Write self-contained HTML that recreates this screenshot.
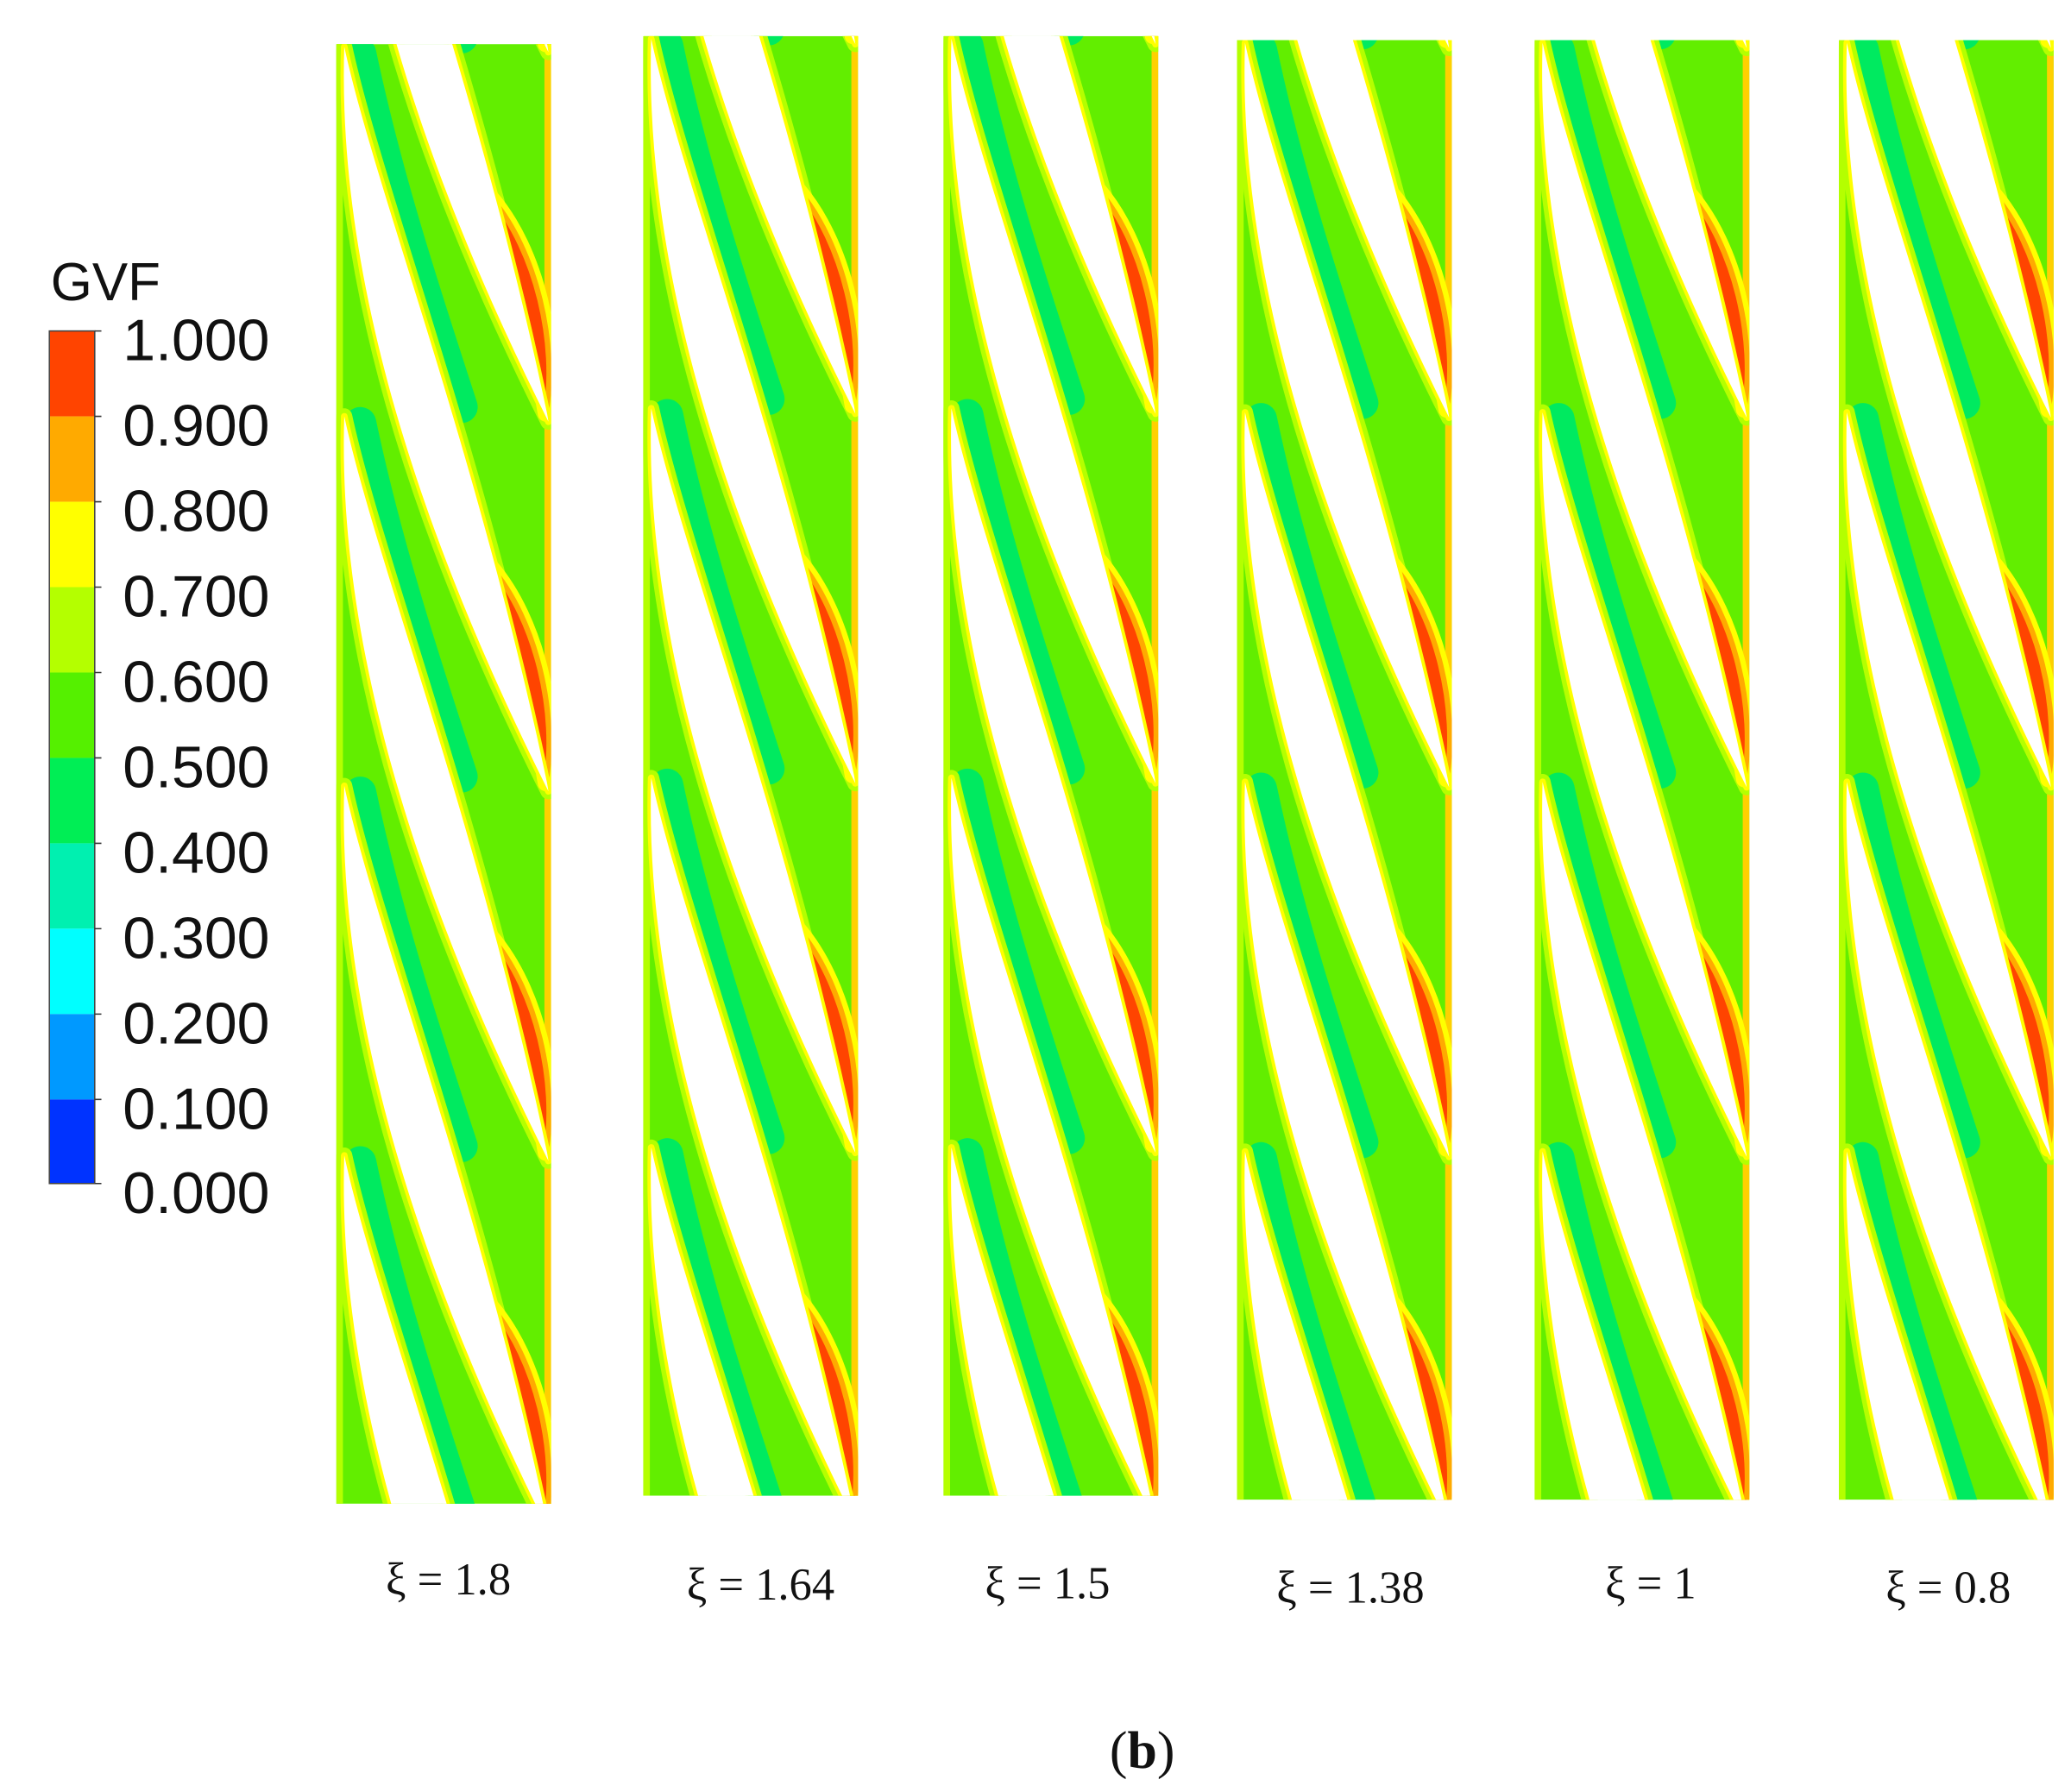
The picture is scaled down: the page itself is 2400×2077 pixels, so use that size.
<!DOCTYPE html>
<html><head><meta charset="utf-8"><style>
html,body{margin:0;padding:0;background:#fff;width:2400px;height:2077px;overflow:hidden;}
svg{display:block;}
</style></head><body>
<svg width="2400" height="2077" viewBox="0 0 1552 1343" xmlns="http://www.w3.org/2000/svg">
<defs>
<clipPath id="cp"><rect x="0" y="0" width="161" height="1094"/></clipPath>
<path id="bl" d="M6,0 C30,110 105,300 158,552 L159,558 C75,390 0,190 6,0 Z"/>
<path id="cy" d="M18,5 C38,100 68,190 94,270" fill="none" stroke="#00ea60" stroke-width="24" stroke-linecap="round"/>
<path id="rd" d="M116,390 C150,430 166,500 157,552 C148,500 136,445 116,390 Z"/>
<g id="s1"><use href="#cy"/></g>
<g id="s2"><use href="#bl" fill="none" stroke="#b4ff00" stroke-width="12" stroke-linejoin="round"/></g>
<g id="s3"><use href="#rd" fill="#ffff00" stroke="#ffff00" stroke-width="12" stroke-linejoin="round"/><use href="#rd" fill="#ff4400" stroke="#ffaa00" stroke-width="4" stroke-linejoin="round"/></g>
<g id="s4"><use href="#bl" fill="none" stroke="#ffff00" stroke-width="5" stroke-linejoin="round"/></g>
<g id="s5"><use href="#bl" fill="#ffffff"/></g>
<g id="panel">
<g clip-path="url(#cp)">
<rect x="0" y="0" width="161" height="1094" fill="#62ee00"/>
<rect x="0" y="0" width="5" height="1094" fill="#b4ff00"/>
<rect x="156" y="0" width="5" height="1094" fill="#ffd000"/>
<g><use href="#s1" y="-552"/><use href="#s1" y="-275"/><use href="#s1" y="2"/><use href="#s1" y="279"/><use href="#s1" y="556"/><use href="#s1" y="833"/></g>
<g><use href="#s2" y="-552"/><use href="#s2" y="-275"/><use href="#s2" y="2"/><use href="#s2" y="279"/><use href="#s2" y="556"/><use href="#s2" y="833"/></g>
<g><use href="#s3" y="-552"/><use href="#s3" y="-275"/><use href="#s3" y="2"/><use href="#s3" y="279"/><use href="#s3" y="556"/><use href="#s3" y="833"/></g>
<g><use href="#s4" y="-552"/><use href="#s4" y="-275"/><use href="#s4" y="2"/><use href="#s4" y="279"/><use href="#s4" y="556"/><use href="#s4" y="833"/></g>
<g><use href="#s5" y="-552"/><use href="#s5" y="-275"/><use href="#s5" y="2"/><use href="#s5" y="279"/><use href="#s5" y="556"/><use href="#s5" y="833"/></g>
</g>
</g>
</defs>
<use href="#panel" x="252" y="33"/>
<use href="#panel" x="482" y="27"/>
<use href="#panel" x="707" y="27"/>
<use href="#panel" x="927" y="30"/>
<use href="#panel" x="1150" y="30"/>
<use href="#panel" x="1378" y="30"/>

<text x="38" y="225" font-family="Liberation Sans, sans-serif" font-size="40" fill="#111">GVF</text>
<g>
<rect x="37" y="248" width="34" height="64" fill="#ff4400"/>
<rect x="37" y="312" width="34" height="64" fill="#ffaa00"/>
<rect x="37" y="376" width="34" height="64" fill="#ffff00"/>
<rect x="37" y="440" width="34" height="64" fill="#b4ff00"/>
<rect x="37" y="504" width="34" height="64" fill="#55f000"/>
<rect x="37" y="568" width="34" height="64" fill="#00ee55"/>
<rect x="37" y="632" width="34" height="64" fill="#00f0b0"/>
<rect x="37" y="696" width="34" height="64" fill="#00ffff"/>
<rect x="37" y="760" width="34" height="64" fill="#0099ff"/>
<rect x="37" y="824" width="34" height="63" fill="#0033ff"/>
<rect x="37" y="248" width="34" height="639" fill="none" stroke="#444" stroke-width="1"/>
<path d="M71,248h5M71,312h5M71,376h5M71,440h5M71,504h5M71,568h5M71,632h5M71,696h5M71,760h5M71,824h5M71,887h5" stroke="#333" stroke-width="1"/>
</g>
<g font-family="Liberation Sans, sans-serif" font-size="44" fill="#111">
<text x="92" y="270">1.000</text>
<text x="92" y="334">0.900</text>
<text x="92" y="398">0.800</text>
<text x="92" y="462">0.700</text>
<text x="92" y="526">0.600</text>
<text x="92" y="590">0.500</text>
<text x="92" y="654">0.400</text>
<text x="92" y="718">0.300</text>
<text x="92" y="782">0.200</text>
<text x="92" y="846">0.100</text>
<text x="92" y="909">0.000</text>
</g>
<g font-family="Liberation Serif, serif" font-size="34" fill="#111" text-anchor="middle">
<text x="336" y="1195">ξ = 1.8</text>
<text x="570" y="1199">ξ = 1.64</text>
<text x="785" y="1198">ξ = 1.5</text>
<text x="1012" y="1201">ξ = 1.38</text>
<text x="1237" y="1198">ξ = 1</text>
<text x="1460" y="1201">ξ = 0.8</text>
</g>
<text x="856" y="1325" font-family="Liberation Serif, serif" font-size="40" fill="#111" text-anchor="middle">(<tspan font-weight="bold">b</tspan>)</text>
</svg>
</body></html>
